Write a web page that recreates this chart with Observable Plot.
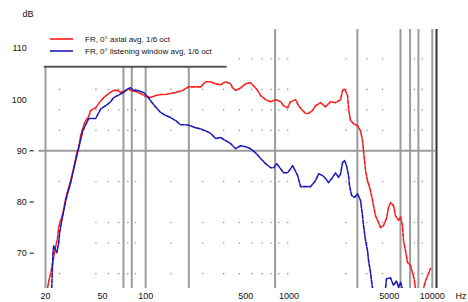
<!DOCTYPE html>
<html>
<head>
<meta charset="utf-8">
<script src="https://cdn.jsdelivr.net/npm/d3@7"></script>
<script src="https://cdn.jsdelivr.net/npm/@observablehq/plot@0.6"></script>
<style>
  html, body { margin: 0; padding: 0; background: #fff; }
  #chart svg { display: block; }
</style>
</head>
<body>
<div id="chart"></div>
<script>
// Series 1 (red): frequency (Hz) and level (dB)
const redFreq = [20.7,21.1,21.8,22.5,23.2,24.3,24.7,25.5,26.4,27.7,28.6,30.0,31.5,33.0,34.1,35.2,37.5,40.0,41.4,44.8,48.6,51.0,55.2,59.8,63.8,66.9,72.5,76.1,78.6,85.2,92.3,100,108,117,127,138,162,181,199,242,262,284,308,333,361,392,404,424,460,498,540,566,604,634,687,744,807,874,917,978,1026,1112,1167,1244,1305,1370,1461,1533,1661,1800,1951,2114,2290,2365,2442,2563,2604,2689,2822,3009,3157,3260,3313,3367,3422,3533,3707,3828,4017,4215,4353,4567,4792,4948,5110,5362,5538,5812,6001,6196,6297,6502,6715,7047,7276,7514,7635,8100,8682,8966,9408,9714];
const redDb   = [63.3,64.6,66.2,68.2,70.5,73.0,75.0,76.4,77.7,80.7,82.2,84.2,86.7,89.5,90.6,93.0,95.5,96.7,97.9,98.4,99.8,100.4,101.2,101.8,101.8,101.4,101.8,102.1,101.8,101.6,101.2,100.6,100.4,100.8,101.0,101.0,101.4,101.8,102.5,102.5,103.5,103.5,103.1,102.9,103.5,103.1,102.3,101.8,102.3,103.1,103.3,102.7,101.8,100.8,100.0,99.6,100.0,99.6,98.8,98.4,99.6,100.0,98.8,97.9,97.3,97.3,97.9,98.8,99.4,98.6,99.6,99.4,100.0,101.8,102.1,100.8,98.2,95.9,95.3,94.9,93.9,92.0,90.0,88.1,86.1,84.2,82.2,80.3,77.3,76.0,75.0,75.4,76.8,78.9,79.9,79.3,77.3,76.4,77.1,75.4,72.5,70.5,68.2,67.6,66.2,64.6,63.1,60.5,63.1,64.6,66.0,67.0];

// Series 2 (blue)
const blueFreq = [22.1,22.5,22.8,24.0,24.7,25.1,26.0,27.7,28.6,30.0,31.5,33.0,34.1,36.4,40.0,44.8,48.6,52.6,57.0,59.8,63.8,70.2,74.9,78.6,82.5,88.0,96.8,103,108,117,127,138,149,162,175,190,206,223,242,262,284,308,333,361,392,424,460,498,540,585,634,687,744,781,820,874,917,978,1026,1060,1148,1205,1415,1533,1609,1715,1800,1889,2014,2114,2218,2290,2365,2442,2522,2604,2646,2733,2868,3009,3157,3260,3313,3422,3533,3590,3707,3828,4200,4715,4792,5110,5362,5628,5812,6001,6196];
const blueDb   = [63.1,69.5,71.5,70.1,71.9,74.0,76.4,80.3,81.8,83.8,86.5,88.9,90.6,93.9,96.3,96.3,98.2,98.8,99.6,100.4,100.8,101.4,102.1,102.3,101.8,101.8,101.4,100.6,99.8,98.6,97.5,96.9,96.5,95.9,95.1,95.1,94.9,94.5,94.3,93.9,93.4,92.4,92.6,92.0,91.4,90.4,91.0,90.8,90.4,89.6,88.5,87.5,86.7,86.7,87.5,86.5,85.7,85.7,86.5,87.1,85.2,83.0,83.0,84.2,85.5,85.2,84.6,83.8,84.8,85.7,84.8,85.5,87.7,88.1,87.1,85.2,83.2,81.3,80.9,81.6,80.3,77.3,75.4,72.5,70.5,68.6,66.2,63.1,60.0,63.1,65.0,65.2,63.7,64.6,63.3,64.3,63.1];

const seriesNames = ["FR, 0° axial avg, 1/6 oct", "FR, 0° listening window avg, 1/6 oct"];

// Axis ticks and grid
const xTicks = [20, 50, 100, 500, 1000, 5000, 10000];
const yTicks = [70, 80, 90, 100, 110];
const yDashTicks = [70, 80, 90];
const solidGridFreq = [20, 70, 80, 100, 200, 800, 3000, 6000, 7000, 8000, 10000];
const dotGridFreq = [25, 45, 55, 65, 75, 85, 150, 250, 350, 450, 550, 650, 750, 850, 980, 2500, 3500, 4500, 7500, 8500];
const dotGridDb = [108, 102, 98, 94, 84, 76, 72, 66];

const xDomain = [20, 10700];
const yDomain = [63.1, 113.7];
const legendBottomDb = 106.4;
const legendRightHz = 370;
const yLabelHz = 14.8;   // where the y tick labels end (left of the frame)

const red = redFreq.map((f, i) => ({f, db: redDb[i]}));
const blue = blueFreq.map((f, i) => ({f, db: blueDb[i]}));
const dots = [];
for (const db of dotGridDb) for (const f of dotGridFreq) {
  if (!(f < legendRightHz && db > legendBottomDb)) dots.push({f, db});
}
const solid = solidGridFreq.map(f => ({f, top: f < legendRightHz ? legendBottomDb : yDomain[1]}));

const font = "'Liberation Sans', Arial, sans-serif";

const plot = Plot.plot({
  width: 468,
  height: 302,
  marginLeft: 45,
  marginRight: 32,
  marginTop: 29,
  marginBottom: 14,
  style: {fontFamily: font, fontSize: "9px", color: "#111", background: "#fff"},
  x: {type: "log", domain: xDomain, axis: null},
  y: {domain: yDomain, axis: null},
  marks: [
    Plot.dot(dots, {x: "f", y: "db", r: 0.8, fill: "#9a9a9a", stroke: null}),
    Plot.ruleX(solid, {x: "f", y1: yDomain[0], y2: "top", stroke: "#9c9c9c", strokeWidth: 2}),
    Plot.ruleX([xDomain[1]], {y1: yDomain[0], y2: yDomain[1], stroke: "#333", strokeWidth: 2}),
    Plot.ruleY([90], {x1: 17.98, x2: 10500, stroke: "#9c9c9c", strokeWidth: 2}),
    Plot.ruleY(yDashTicks, {x1: 15.6, x2: 16.7, stroke: "#333", strokeWidth: 1.2}),
    Plot.ruleY([legendBottomDb], {x1: 19.6, x2: legendRightHz, stroke: "#555", strokeWidth: 2}),
    Plot.line(red, {x: "f", y: "db", stroke: "#ff1a1a", strokeWidth: 1.6, strokeDasharray: "4,1.5", clip: true}),
    Plot.line(blue, {x: "f", y: "db", stroke: "#1a1aba", strokeWidth: 1.6, strokeDasharray: "4,1.5", clip: true}),
    Plot.text(xTicks, {x: d => d, y: yDomain[0], dy: 8, text: d => String(d), textAnchor: "middle", fill: "#111", fontSize: 9}),
    Plot.text(yTicks, {x: yLabelHz, y: d => d, text: d => String(d), textAnchor: "end", fill: "#111", fontSize: 9})
  ]
});

const svg = d3.select(plot);
// unit labels
svg.append("text").attr("x", 28).attr("y", 17).attr("text-anchor", "middle")
  .attr("font-family", font).attr("font-size", 9).attr("fill", "#111").text("dB");
svg.append("text").attr("x", 461).attr("y", 299).attr("text-anchor", "middle")
  .attr("font-family", font).attr("font-size", 9).attr("fill", "#111").text("Hz");
// legend
const legendColors = ["#ff1a1a", "#1a1aba"];
seriesNames.forEach((name, i) => {
  const y = 39 + i * 12;
  svg.append("line").attr("x1", 50).attr("x2", 73).attr("y1", y).attr("y2", y)
    .attr("stroke", legendColors[i]).attr("stroke-width", 1.6);
  svg.append("text").attr("x", 85).attr("y", y + 3).attr("text-anchor", "start")
    .attr("font-family", font).attr("font-size", 8).attr("fill", "#111").text(name);
});
document.getElementById("chart").appendChild(plot);
</script>
</body>
</html>
